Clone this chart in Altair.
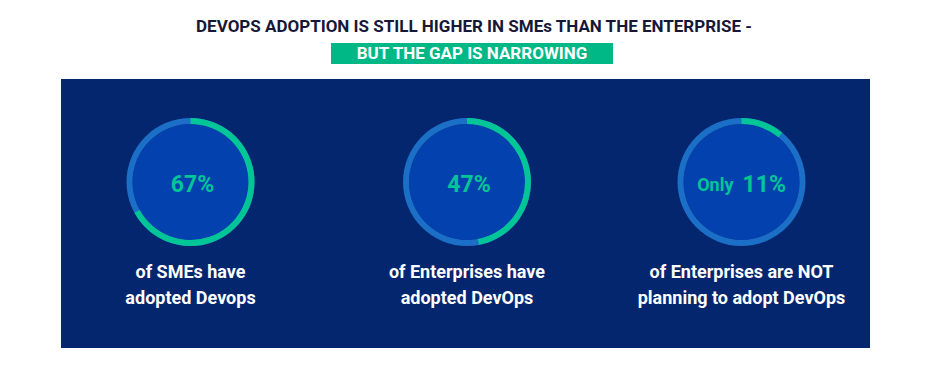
import math
import altair as alt
import pandas as pd

# ---- data ----
percents = [67, 47, 11]
prefixes = ["", "", "Only"]
caption_line1 = ["of SMEs have", "of Enterprises have", "of Enterprises are NOT"]
caption_line2 = ["adopted Devops", "adopted DevOps", "planning to adopt DevOps"]
title_line1 = "DEVOPS ADOPTION IS STILL HIGHER IN SMEs THAN THE ENTERPRISE -"
title_line2 = "BUT THE GAP IS NARROWING"

# ---- layout (chart pixel coords; page = chart + 8) ----
W, H = 914, 352
OFF = 8
centers_x = [190.5 - OFF, 467 - OFF, 741.5 - OFF]
center_y = 182 - OFF
R_OUT, R_IN = 64, 58

NAVY = "#03266f"
DISC = "#0341ae"
TRACK = "#1c6fc6"
GREEN = "#00c596"
TITLE_COL = "#161838"
FONT = "Roboto"

panel = pd.DataFrame({"x": [61 - OFF], "x2": [870 - OFF], "y": [79 - OFF], "y2": [348 - OFF]})
hl = pd.DataFrame({"x": [331 - OFF], "x2": [613 - OFF], "y": [43 - OFF], "y2": [64 - OFF]})

rings = pd.DataFrame({
    "cx": centers_x,
    "cy": [center_y] * 3,
    "start": [0.0] * 3,
    "full": [2 * math.pi] * 3,
    "end": [p / 100 * 2 * math.pi for p in percents],
    "pct": [f"{p}%" for p in percents],
    "prefix": prefixes,
    "l1": caption_line1,
    "l2": caption_line2,
})
rings["pct_x"] = [cx if not pre else cx + 1 for cx, pre in zip(rings["cx"], prefixes)]

X = lambda f: alt.X(f, type="quantitative", scale=None, axis=None)
Y = lambda f: alt.Y(f, type="quantitative", scale=None, axis=None)

bg = alt.Chart(panel).mark_rect(color=NAVY).encode(
    x=X("x"), x2="x2", y=Y("y"), y2="y2")

hl_rect = alt.Chart(hl).mark_rect(color="#00b886").encode(
    x=X("x"), x2="x2", y=Y("y"), y2="y2")

titles = pd.DataFrame({"t": [title_line1], "x": [474 - OFF], "y": [27 - OFF]})
t1 = alt.Chart(titles).mark_text(
    font=FONT, fontSize=17, fontWeight="bold", color=TITLE_COL,
    baseline="middle", align="center"
).encode(x=X("x"), y=Y("y"), text="t:N")

titles2 = pd.DataFrame({"t": [title_line2], "x": [472 - OFF], "y": [54 - OFF]})
t2 = alt.Chart(titles2).mark_text(
    font=FONT, fontSize=17, fontWeight="bold", color="white",
    baseline="middle", align="center"
).encode(x=X("x"), y=Y("y"), text="t:N")

base = alt.Chart(rings)

disc = base.mark_arc(color=DISC, radius=R_IN, radius2=0).encode(
    x=X("cx"), y=Y("cy"),
    theta=alt.Theta("start:Q", scale=None), theta2="full:Q")

track = base.mark_arc(color=TRACK, radius=R_OUT, radius2=R_IN).encode(
    x=X("cx"), y=Y("cy"),
    theta=alt.Theta("start:Q", scale=None), theta2="full:Q")

prog = base.mark_arc(color=GREEN, radius=R_OUT, radius2=R_IN).encode(
    x=X("cx"), y=Y("cy"),
    theta=alt.Theta("start:Q", scale=None), theta2="end:Q")

pct_center = alt.Chart(rings[rings["prefix"] == ""]).mark_text(
    font=FONT, fontSize=23, fontWeight="bold", color=GREEN,
    align="center", baseline="middle", dy=3, dx=2
).encode(x=X("cx"), y=Y("cy"), text="pct:N")

pct_pref = alt.Chart(rings[rings["prefix"] != ""]).mark_text(
    font=FONT, fontSize=23, fontWeight="bold", color=GREEN,
    align="left", baseline="middle", dy=3
).encode(x=X("pct_x"), y=Y("cy"), text="pct:N")

pref = alt.Chart(rings[rings["prefix"] != ""]).mark_text(
    font=FONT, fontSize=18, fontWeight="bold", color=GREEN,
    align="right", baseline="middle", dy=4, dx=-8
).encode(x=X("cx"), y=Y("cy"), text="prefix:N")

cap1 = base.mark_text(
    font=FONT, fontSize=18, fontWeight="bold", color="white",
    align="center", baseline="middle", dy=273 - 182
).encode(x=X("cx"), y=Y("cy"), text="l1:N")

cap2 = base.mark_text(
    font=FONT, fontSize=18, fontWeight="bold", color="white",
    align="center", baseline="middle", dy=299 - 182
).encode(x=X("cx"), y=Y("cy"), text="l2:N")

chart = alt.layer(
    bg, hl_rect, t1, t2, disc, track, prog, pct_center, pct_pref, pref, cap1, cap2
).properties(
    width=W, height=H, padding=0,
    autosize=alt.AutoSizeParams(type="none"),
    background="white",
).configure_view(stroke=None)

chart.save("out.html", embed_options={"renderer": "svg", "actions": False})
